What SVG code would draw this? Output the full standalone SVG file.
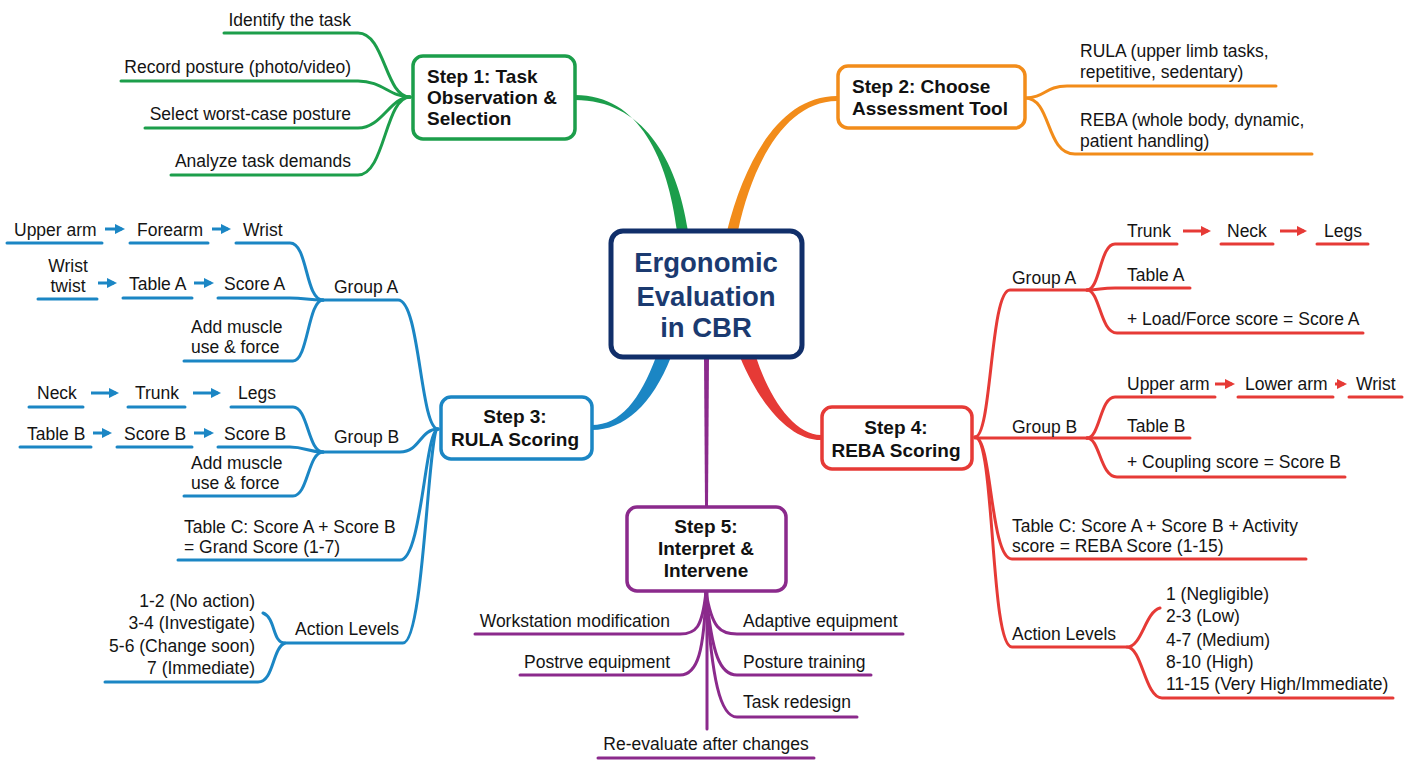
<svg xmlns="http://www.w3.org/2000/svg" width="1408" height="768" viewBox="0 0 1408 768">
<defs>
<style>
text{font-family:"Liberation Sans",Arial,sans-serif;font-size:17.5px;fill:#141414}
.st{font-weight:bold;font-size:19px;fill:#111}
.ctr{font-weight:bold;font-size:27.5px;fill:#1b3a70}
.e{text-anchor:end}
.m{text-anchor:middle}
.ln{fill:none;stroke-width:3;stroke-linecap:round;stroke-linejoin:round}
.g{stroke:#1c9e4b}.o{stroke:#f28c1a}.b{stroke:#1b86c4}.r{stroke:#e63a36}.p{stroke:#8b2a8c}
.box{fill:#fff;stroke-width:3.5}
.arb{fill:none;stroke:#1b86c4;stroke-width:3;marker-end:url(#ab)}
.arr{fill:none;stroke:#e63a36;stroke-width:3;marker-end:url(#ar)}
</style>
<marker id="ab" viewBox="0 0 10 10" refX="7" refY="5" markerWidth="3.4" markerHeight="3.4" orient="auto"><path d="M0,0L10,5L0,10z" fill="#1b86c4"/></marker>
<marker id="ar" viewBox="0 0 10 10" refX="7" refY="5" markerWidth="3.4" markerHeight="3.4" orient="auto"><path d="M0,0L10,5L0,10z" fill="#e63a36"/></marker>
</defs>
<rect width="1408" height="768" fill="#fff"/>

<g id="connectors">
<path d="M575,95 C640,95 668,160 677,231 L688,231 C677,158 642,100 575,100 Z" fill="#1c9e4b"/>
<path d="M837,96 C780,96 745,160 727,231 L738,231 C752,165 785,101 837,101 Z" fill="#f28c1a"/>
<path d="M656,357 C640,400 620,425 592,425 L592,430 C624,430 652,405 671,357 Z" fill="#1b86c4"/>
<path d="M740,357 C760,405 790,440 821,440 L821,435 C795,435 770,400 756,357 Z" fill="#e63a36"/>
<path d="M704,357 L709,357 L708,506 L705,506 Z" fill="#8b2a8c"/>

<path class="ln g" d="M224,33 H358 C385,33 385,97 410,97"/>
<path class="ln g" d="M121,81 H358 C382,81 390,97 410,97"/>
<path class="ln g" d="M145,128 H358 C382,128 390,97 410,97"/>
<path class="ln g" d="M171,175 H358 C385,175 385,97 410,97"/>

<path class="ln o" d="M1025,98 C1045,98 1045,86 1067,86 H1276"/>
<path class="ln o" d="M1025,98 C1052,98 1045,154 1075,154 H1312"/>

<path class="ln b" d="M323,300 H398 C420,300 420,429 438,429"/>
<path class="ln b" d="M323,452 H400 C420,452 420,429 438,429"/>
<path class="ln b" d="M178,560 H400 C422,560 425,429 438,429"/>
<path class="ln b" d="M285,643 H403 C424,643 428,429 438,429"/>
<path class="ln b" d="M236,243 H290 C308,243 305,300 323,300"/>
<path class="ln b" d="M218,298 H290 C305,298 308,300 323,300"/>
<path class="ln b" d="M184,361 H293 C308,361 308,300 323,300"/>
<path class="ln b" d="M231,407 H293 C308,407 308,452 323,452"/>
<path class="ln b" d="M218,447 H290 C305,447 308,452 323,452"/>
<path class="ln b" d="M184,496 H293 C308,496 308,452 323,452"/>
<path class="ln b" d="M7,243 H102 M130,243 H208 M38,299 H97 M123,298 H192 M29,407 H83 M128,407 H185 M20,447 H91 M117,447 H192"/>
<path class="ln b" d="M263,613 C276,618 272,643 285,643 C272,648 274,682 258,682 H105"/>
<path class="arb" d="M105,229 H122"/>
<path class="arb" d="M212,229 H228"/>
<path class="arb" d="M98,283 H114"/>
<path class="arb" d="M194,283 H211"/>
<path class="arb" d="M91,393 H116"/>
<path class="arb" d="M193,393 H218"/>
<path class="arb" d="M93,433 H109"/>
<path class="arb" d="M194,433 H211"/>

<path class="ln r" d="M975,437 C992,437 990,290 1010,290 H1087"/>
<path class="ln r" d="M975,438 H1087"/>
<path class="ln r" d="M975,437 C992,437 990,559 1012,559 H1306"/>
<path class="ln r" d="M975,437 C995,437 990,647 1012,647 H1127"/>
<path class="ln r" d="M1087,290 C1100,290 1100,244 1115,244 H1177"/>
<path class="ln r" d="M1087,290 C1100,290 1100,288 1115,288 H1190"/>
<path class="ln r" d="M1087,290 C1100,290 1100,333 1117,333 H1363"/>
<path class="ln r" d="M1087,438 C1100,438 1100,397 1115,397 H1215"/>
<path class="ln r" d="M1087,438 H1190"/>
<path class="ln r" d="M1087,438 C1100,438 1100,477 1117,477 H1345"/>
<path class="ln r" d="M1221,244 H1273 M1317,244 H1368 M1238,397 H1333 M1349,397 H1402"/>
<path class="ln r" d="M1160,608 C1145,612 1142,647 1127,647 C1142,647 1145,698 1162,698 H1393"/>
<path class="arr" d="M1183,231 H1208"/>
<path class="arr" d="M1280,231 H1304"/>
<path class="arr" d="M1215,384 H1232"/>
<path class="arr" d="M1335,384 H1344"/>

<path class="ln p" d="M706,592 C702,628 696,634 680,634 H475"/>
<path class="ln p" d="M706,592 C704,650 698,675 680,675 H520"/>
<path class="ln p" d="M706,592 C712,628 720,634 737,634 H903"/>
<path class="ln p" d="M706,592 C712,655 720,675 737,675 H871"/>
<path class="ln p" d="M706,592 C712,680 720,717 737,717 H857"/>
<path class="ln p" d="M707,592 V729"/>
<path class="ln p" d="M598,758 H814"/>
</g>

<g id="center">
<rect x="611" y="231" width="191" height="126" rx="12" fill="#fff" stroke="#112f6a" stroke-width="5"/>
<text class="ctr m" x="706" y="272">Ergonomic</text>
<text class="ctr m" x="706" y="306">Evaluation</text>
<text class="ctr m" x="706" y="337">in CBR</text>
</g>

<g id="step1">
<rect class="box g" x="413" y="56" width="162" height="83" rx="10"/>
<text class="st" x="427" y="83">Step 1: Task</text>
<text class="st" x="427" y="104">Observation &amp;</text>
<text class="st" x="427" y="125">Selection</text>
<text class="e" x="351" y="26">Identify the task</text>
<text class="e" x="351" y="73">Record posture (photo/video)</text>
<text class="e" x="351" y="120">Select worst-case posture</text>
<text class="e" x="351" y="167">Analyze task demands</text>
</g>

<g id="step2">
<rect class="box o" x="838" y="66" width="187" height="62" rx="10"/>
<text class="st" x="852" y="93">Step 2: Choose</text>
<text class="st" x="852" y="115">Assessment Tool</text>
<text x="1080" y="57">RULA (upper limb tasks,</text>
<text x="1080" y="78">repetitive, sedentary)</text>
<text x="1080" y="126">REBA (whole body, dynamic,</text>
<text x="1080" y="147">patient handling)</text>
</g>

<g id="step3">
<rect class="box b" x="441" y="397" width="151" height="62" rx="10"/>
<text class="st m" x="515" y="423">Step 3:</text>
<text class="st m" x="515" y="446">RULA Scoring</text>
<text x="334" y="293">Group A</text>
<text x="334" y="443">Group B</text>
<text x="14" y="236">Upper arm</text>
<text x="137" y="236">Forearm</text>
<text x="243" y="236">Wrist</text>
<text class="m" x="68" y="272">Wrist</text>
<text class="m" x="68" y="292">twist</text>
<text x="129" y="290">Table A</text>
<text x="224" y="290">Score A</text>
<text x="191" y="333">Add muscle</text>
<text x="191" y="353">use &amp; force</text>
<text x="37" y="399">Neck</text>
<text x="135" y="399">Trunk</text>
<text x="238" y="399">Legs</text>
<text x="27" y="440">Table B</text>
<text x="124" y="440">Score B</text>
<text x="224" y="440">Score B</text>
<text x="191" y="469">Add muscle</text>
<text x="191" y="489">use &amp; force</text>
<text x="184" y="533">Table C: Score A + Score B</text>
<text x="184" y="553">= Grand Score (1-7)</text>
<text x="295" y="635">Action Levels</text>
<text class="e" x="255" y="607">1-2 (No action)</text>
<text class="e" x="255" y="629">3-4 (Investigate)</text>
<text class="e" x="255" y="652">5-6 (Change soon)</text>
<text class="e" x="255" y="674">7 (Immediate)</text>
</g>

<g id="step4">
<rect class="box r" x="822" y="407" width="150" height="62" rx="10"/>
<text class="st m" x="896" y="434">Step 4:</text>
<text class="st m" x="896" y="457">REBA Scoring</text>
<text x="1012" y="284">Group A</text>
<text x="1012" y="433">Group B</text>
<text x="1127" y="237">Trunk</text>
<text x="1227" y="237">Neck</text>
<text x="1324" y="237">Legs</text>
<text x="1127" y="281">Table A</text>
<text x="1127" y="325">+ Load/Force score = Score A</text>
<text x="1127" y="390">Upper arm</text>
<text x="1245" y="390">Lower arm</text>
<text x="1356" y="390">Wrist</text>
<text x="1127" y="432">Table B</text>
<text x="1127" y="468">+ Coupling score = Score B</text>
<text x="1012" y="532">Table C: Score A + Score B + Activity</text>
<text x="1012" y="552">score = REBA Score (1-15)</text>
<text x="1012" y="640">Action Levels</text>
<text x="1166" y="600">1 (Negligible)</text>
<text x="1166" y="622">2-3 (Low)</text>
<text x="1166" y="646">4-7 (Medium)</text>
<text x="1166" y="668">8-10 (High)</text>
<text x="1166" y="690">11-15 (Very High/Immediate)</text>
</g>

<g id="step5">
<rect class="box p" x="627" y="507" width="159" height="84" rx="10"/>
<text class="st m" x="706" y="533">Step 5:</text>
<text class="st m" x="706" y="555">Interpret &amp;</text>
<text class="st m" x="706" y="577">Intervene</text>
<text class="e" x="670" y="627">Workstation modification</text>
<text class="e" x="670" y="668">Postrve equipment</text>
<text x="743" y="627">Adaptive equipment</text>
<text x="743" y="668">Posture training</text>
<text x="743" y="708">Task redesign</text>
<text class="m" x="706" y="750">Re-evaluate after changes</text>
</g>
</svg>
